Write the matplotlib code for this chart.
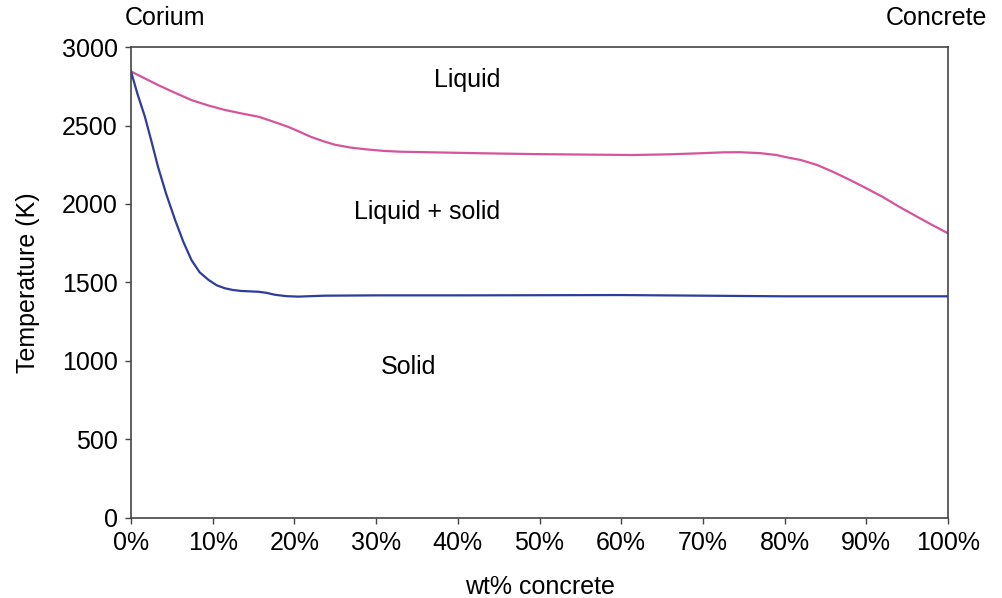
import matplotlib.pyplot as plt
from matplotlib.ticker import PercentFormatter

plt.rcParams['font.family'] = ['Liberation Sans', 'DejaVu Sans']

# liquidus (pink)
liq_x = [0, 3.3, 5.4, 7.4, 9.5, 11.5, 13.5, 15.6, 17.0, 18.0, 19.3, 20.6, 22.0, 23.7, 25.0, 26.8, 28.8, 31, 33, 37, 43, 49.2, 55, 61.4, 65.6, 69.6, 72.5, 74.5, 77, 79, 80, 82, 84, 86, 88, 90, 92, 94, 96, 98, 100]
liq_t = [2844, 2758, 2708, 2662, 2627, 2599, 2577, 2556, 2532, 2514, 2490, 2461, 2428, 2397, 2377, 2360, 2348, 2338, 2333, 2329, 2323, 2318, 2315, 2312, 2316, 2323, 2329, 2330, 2324, 2312, 2300, 2280, 2248, 2203, 2153, 2100, 2045, 1983, 1925, 1868, 1813]

# solidus (blue)
sol_x = [0, 0.8, 1.7, 2.5, 3.3, 4.3, 5.4, 6.4, 7.4, 8.4, 9.5, 10.5, 11.5, 12.5, 13.5, 15.6, 16.6, 17.6, 19.0, 20.5, 22, 23.7, 30, 40, 50, 60, 70, 80, 90, 100]
sol_t = [2844, 2700, 2556, 2400, 2238, 2065, 1898, 1760, 1643, 1565, 1516, 1482, 1463, 1452, 1446, 1441, 1434, 1422, 1413, 1410, 1413, 1416, 1418, 1418, 1419, 1420, 1416, 1412, 1412, 1412]

fig = plt.figure(figsize=(10.03, 5.98), dpi=100)
ax = fig.add_axes([0.1306, 0.1338, 0.8146, 0.7876])

ax.plot(liq_x, liq_t, color='#d6549c', lw=1.6)
ax.plot(sol_x, sol_t, color='#2e3c9c', lw=1.6)

ax.set_xlim(0, 100)
ax.set_ylim(0, 3000)
ax.set_xticks(range(0, 101, 10))
ax.set_yticks(range(0, 3001, 500))
ax.xaxis.set_major_formatter(PercentFormatter(decimals=0))
ax.tick_params(labelsize=18, direction='out', length=4.5, width=1, pad=5, color='#444444')
for s in ax.spines.values():
    s.set_color('#444444')
    s.set_linewidth(1.2)

ax.set_xlabel('wt% concrete', fontsize=18, labelpad=14)
ax.set_ylabel('Temperature (K)', fontsize=18, labelpad=16)

ax.text(41.1, 2790, 'Liquid', fontsize=18, ha='center', va='center')
ax.text(36.2, 1949, 'Liquid + solid', fontsize=18, ha='center', va='center')
ax.text(34.0, 962, 'Solid', fontsize=18, ha='center', va='center')

fig.text(165 / 1003, 1 - 18 / 598, 'Corium', fontsize=18, ha='center', va='center')
fig.text(987 / 1003, 1 - 18 / 598, 'Concrete', fontsize=18, ha='right', va='center')

fig.savefig('out.png', dpi=100)
